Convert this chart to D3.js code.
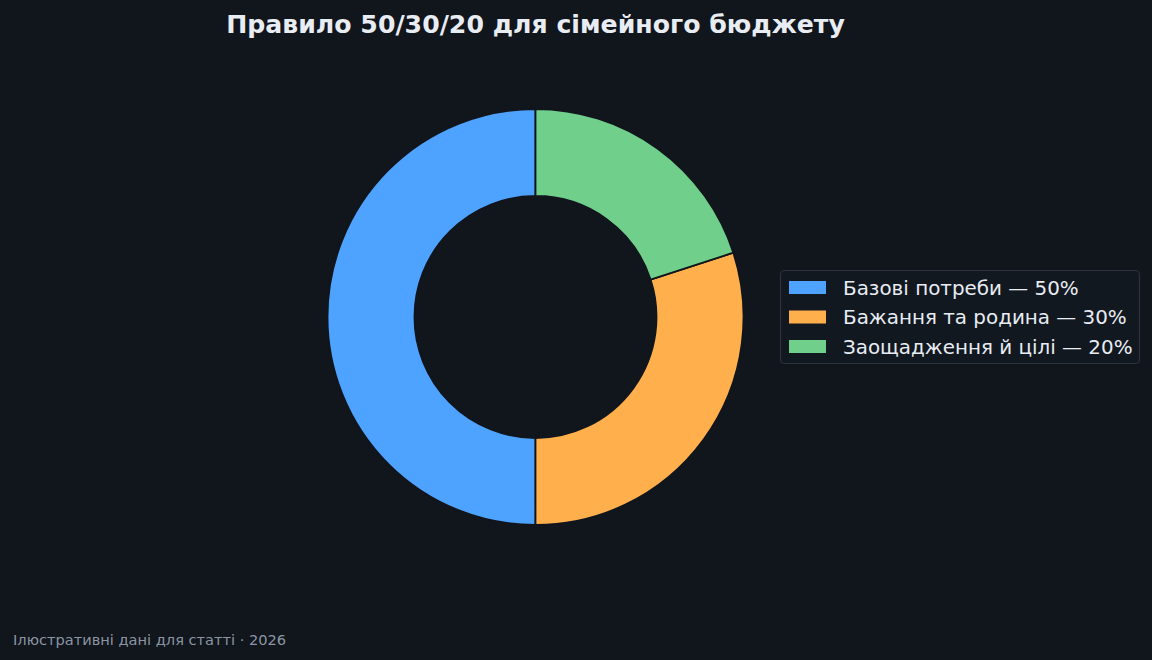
<!DOCTYPE html>
<html><head><meta charset="utf-8">
<script src="https://cdn.jsdelivr.net/npm/d3@7"></script>
<style>html,body{margin:0;padding:0;background:#11151c;}svg{display:block;}</style>
</head><body>
<svg id="c" width="1152" height="660"></svg>
<script>
const categories = ["Базові потреби", "Бажання та родина", "Заощадження й цілі"];
const values = [50, 30, 20];
const colors = ["#4da3ff", "#ffb04d", "#6fcf8b"];
const title = "Правило 50/30/20 для сімейного бюджету";
const footer = "Ілюстративні дані для статті · 2026";

const bg = "#11151c";
const svg = d3.select("#c");
svg.append("rect").attr("width",1152).attr("height",660).attr("fill",bg);

const cx = 535.5, cy = 317, rOuter = 208, rInner = 121;
const pie = d3.pie().sort(null).value(d=>d).startAngle(0).endAngle(-2*Math.PI);
const arc = d3.arc().innerRadius(rInner).outerRadius(rOuter);
const g = svg.append("g").attr("transform",`translate(${cx},${cy})`);
g.selectAll("path").data(pie(values)).join("path")
  .attr("d",arc).attr("fill",(d,i)=>colors[i])
  .attr("stroke",bg).attr("stroke-width",1.8).attr("stroke-linejoin","miter");

svg.append("text").attr("x",535.5).attr("y",33).attr("text-anchor","middle")
  .attr("font-family","DejaVu Sans").attr("font-weight","bold").attr("font-size",25.2)
  .attr("fill","#e8ecf3").text(title);

svg.append("text").attr("x",13).attr("y",645)
  .attr("font-family","DejaVu Sans").attr("font-size",14.6)
  .attr("fill","#8b95a3").text(footer);

const lg = svg.append("g");
lg.append("rect").attr("x",780.5).attr("y",270.5).attr("width",359).attr("height",93).attr("rx",4)
  .attr("fill","#121820").attr("stroke","#2c333d").attr("stroke-width",1.2);
const rowY = d3.scalePoint().domain(categories).range([287.5,346.5]);
categories.forEach((c,i)=>{
  const y = rowY(c);
  lg.append("rect").attr("x",789).attr("y",y-6.5).attr("width",37).attr("height",13).attr("fill",colors[i]);
  lg.append("text").attr("x",843).attr("y",y+7)
    .attr("font-family","DejaVu Sans").attr("font-size",19.9).attr("fill","#e8ecf3")
    .text(`${c} — ${values[i]}%`);
});
</script>
</body></html>
